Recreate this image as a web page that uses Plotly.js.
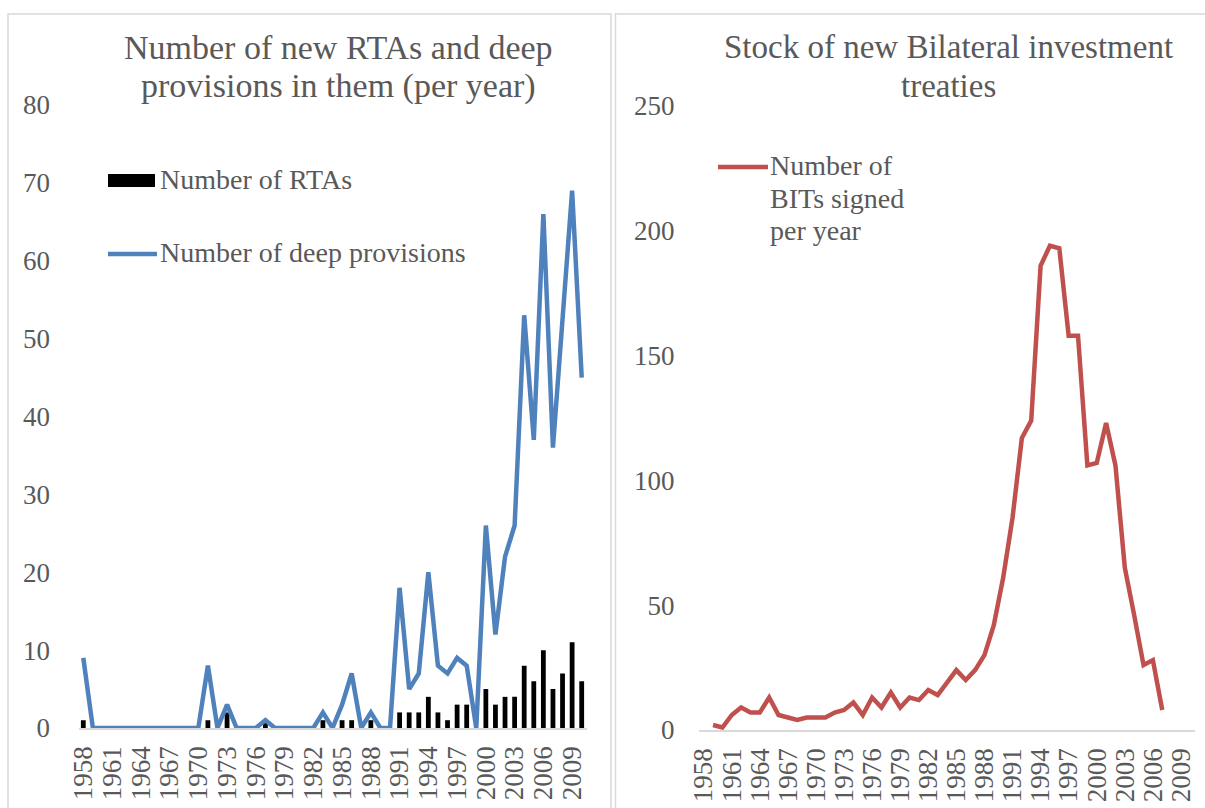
<!DOCTYPE html>
<html>
<head>
<meta charset="utf-8">
<script src="https://cdn.plot.ly/plotly-3.0.1.min.js"></script>
<style>html,body{margin:0;padding:0;background:#fff;}#chart{width:1205px;height:808px;}</style>
</head>
<body>
<div id="chart"></div>
<script>
// ---- data ----
const years = [1958,1959,1960,1961,1962,1963,1964,1965,1966,1967,1968,1969,1970,1971,1972,1973,1974,1975,1976,1977,1978,1979,1980,1981,1982,1983,1984,1985,1986,1987,1988,1989,1990,1991,1992,1993,1994,1995,1996,1997,1998,1999,2000,2001,2002,2003,2004,2005,2006,2007,2008,2009,2010];
const rtas = [1,0,0,0,0,0,0,0,0,0,0,0,0,1,0,2,0,0,0,1,0,0,0,0,0,1,0,1,1,0,1,0,0,2,2,2,4,2,1,3,3,0,5,3,4,4,8,6,10,5,7,11,6];
const deepProvisions = [9,0,0,0,0,0,0,0,0,0,0,0,0,8,0,3,0,0,0,1,0,0,0,0,0,2,0,3,7,0,2,0,0,18,5,7,20,8,7,9,8,0,26,12,22,26,53,37,66,36,52,69,45];
const bitYears = [1959,1960,1961,1962,1963,1964,1965,1966,1967,1968,1969,1970,1971,1972,1973,1974,1975,1976,1977,1978,1979,1980,1981,1982,1983,1984,1985,1986,1987,1988,1989,1990,1991,1992,1993,1994,1995,1996,1997,1998,1999,2000,2001,2002,2003,2004,2005,2006,2007];
const bitsSigned = [2,1,6,9,7,7,13,6,5,4,5,5,5,7,8,11,6,13,9,15,9,13,12,16,14,19,24,20,24,30,42,61,85,117,124,186,194,193,158,158,106,107,123,106,65,46,26,28,8];
const tickLabels = ['1958','1961','1964','1967','1970','1973','1976','1979','1982','1985','1988','1991','1994','1997','2000','2003','2006','2009'];
const leftTitle = ['Number of new RTAs and deep','provisions in them (per year)'];
const rightTitle = ['Stock of new Bilateral investment','treaties'];
const seriesNames = ['Number of RTAs','Number of deep provisions','Number of BITs signed per year'];

// ---- styling ----
const W = 1205, H = 808;
const px = x => x / W;
const py = y => 1 - y / H;
const FONT = '"Liberation Serif", "DejaVu Serif", serif';
const TXT = '#595959';
const BLUE = '#4f81bd', RED = '#c0504d', GRID = '#d9d9d9';
const tickVals = tickLabels.map(Number);

const traces = [
  {type:'bar', x: years, y: rtas, name: seriesNames[0], marker:{color:'#000000'}, xaxis:'x', yaxis:'y'},
  {type:'scatter', mode:'lines', x: years, y: deepProvisions, name: seriesNames[1], line:{color:BLUE, width:4.5, shape:'linear'}, xaxis:'x', yaxis:'y'},
  {type:'scatter', mode:'lines', x: bitYears, y: bitsSigned, name: seriesNames[2], line:{color:RED, width:4.5}, xaxis:'x2', yaxis:'y2'}
];

function xAx(domain, anchor){
  return {domain, anchor, range:[1957.5, 2010.5], tickmode:'array', tickvals: tickVals, ticktext: tickLabels,
    tickangle:-90, tickfont:{family:FONT, size:27, color:TXT}, ticks:'outside', ticklen:6, tickcolor:'rgba(0,0,0,0)',
    showline:true, linecolor:GRID, linewidth:1.5, showgrid:false, zeroline:false, fixedrange:true};
}
function yAx(domain, anchor, range, dtick, tlen){
  return {domain, anchor, range, dtick, tick0:0, tickfont:{family:FONT, size:27, color:TXT}, ticks:'outside',
    ticklen:tlen, tickcolor:'rgba(0,0,0,0)', showline:false, showgrid:false, zeroline:false, fixedrange:true};
}

const annotations = [];
function addText(text, x, y, size, xanchor){
  annotations.push({text, xref:'paper', yref:'paper', x:px(x), y:py(y), xanchor: xanchor||'center', yanchor:'middle',
    showarrow:false, font:{family:FONT, size, color:TXT}});
}
addText(leftTitle[0], 338, 47, 34);
addText(leftTitle[1], 338, 86, 34);
addText(rightTitle[0], 948, 47, 33);
addText(rightTitle[1], 948, 86, 33);
addText(seriesNames[0], 158, 180, 28, 'left');
addText(seriesNames[1], 158, 253, 28, 'left');
addText('Number of', 768, 166, 28, 'left');
addText('BITs signed', 768, 198, 28, 'left');
addText('per year', 768, 230, 28, 'left');

const shapes = [
  {type:'rect', xref:'paper', yref:'paper', x0:px(8), x1:px(611), y0:py(14), y1:py(830), line:{color:GRID, width:1.5}, fillcolor:'rgba(0,0,0,0)'},
  {type:'rect', xref:'paper', yref:'paper', x0:px(615.5), x1:px(1230), y0:py(14), y1:py(830), line:{color:GRID, width:1.5}, fillcolor:'rgba(0,0,0,0)'},
  // legend keys
  {type:'rect', xref:'paper', yref:'paper', x0:px(108), x1:px(155), y0:py(174), y1:py(187), fillcolor:'#000000', line:{width:0}},
  {type:'line', xref:'paper', yref:'paper', x0:px(108), x1:px(157), y0:py(254), y1:py(254), line:{color:BLUE, width:4.5}},
  {type:'line', xref:'paper', yref:'paper', x0:px(718), x1:px(768), y0:py(167), y1:py(167), line:{color:RED, width:4.5}}
];

const layout = {
  width:W, height:H, margin:{l:0, r:0, t:0, b:0}, paper_bgcolor:'#ffffff', plot_bgcolor:'#ffffff',
  showlegend:false, bargap:0.5,
  xaxis: xAx([px(78.5), px(586.5)], 'y'),
  yaxis: yAx([py(728), py(105)], 'x', [0, 80], 10, 22),
  xaxis2: xAx([px(699), px(1195)], 'y2'),
  yaxis2: yAx([py(730), py(106)], 'x2', [0, 250], 50, 18),
  annotations, shapes
};

Plotly.newPlot('chart', traces, layout, {displayModeBar:false, staticPlot:true});
</script>
</body>
</html>
